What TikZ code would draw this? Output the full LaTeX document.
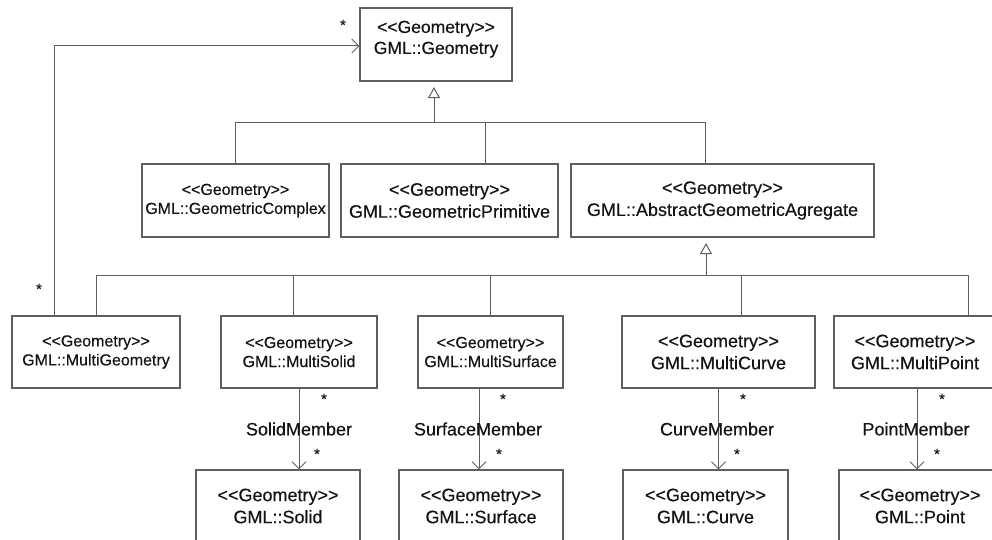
\documentclass[tikz,border=0pt]{standalone}
\usepackage{fontspec}
\setmainfont{Liberation Sans}[FakeBold=0.35]
\usetikzlibrary{arrows.meta}
\definecolor{edge}{RGB}{95,95,95}
\definecolor{ink}{RGB}{20,20,20}
% stereotype guillemets written as two angle brackets
\newcommand\umlst[1]{<\kern0pt<#1>\kern0pt>}
\begin{document}
\begin{tikzpicture}[x=1pt,y=-1pt,
  cls/.style={draw=edge, line width=1.1pt, rectangle, inner sep=0pt,
    align=center, text=ink, minimum height=72pt},
  fsa/.style={font=\fontsize{16}{19}\selectfont},
  fsb/.style={font=\fontsize{17.5}{21}\selectfont},
  fsc/.style={font=\fontsize{18}{22}\selectfont},
  line/.style={draw=edge, line width=1pt},
  gen/.style={line, -{Triangle[open,length=11pt,width=12pt]}, shorten >=5.5pt},
  assoc/.style={line, -{Straight Barb[length=7pt,width=14pt]}},
  mult/.style={font=\fontsize{15}{15}\selectfont, inner sep=0pt, text=ink},
  role/.style={font=\fontsize{18}{18}\selectfont, inner sep=0pt, text=ink}
]
\useasboundingbox (0,0) rectangle (992,540);

% classes
\node[cls, fsb, minimum width=152pt, minimum height=73pt] (G) at (436,44.5)
  {\umlst{Geometry}\\GML::Geometry\\[-13pt]\strut};
\node[cls, fsa, minimum width=187pt, minimum height=73pt] (GC) at (235.5,200.5)
  {\umlst{Geometry}\\GML::GeometricComplex};
\node[cls, fsc, minimum width=217pt, minimum height=73pt] (GP) at (449.5,200.5)
  {\umlst{Geometry}\\GML::GeometricPrimitive};
\node[cls, fsc, minimum width=303pt, minimum height=73pt] (AGA) at (722.5,200.5)
  {\umlst{Geometry}\\GML::AbstractGeometricAgregate};

\node[cls, fsa, minimum width=168pt] (MG) at (96,352)
  {\umlst{Geometry}\\GML::MultiGeometry};
\node[cls, fsa, minimum width=156pt] (MS) at (299,352)
  {\umlst{Geometry}\\GML::MultiSolid};
\node[cls, fsa, minimum width=145pt] (MSu) at (490.5,352)
  {\umlst{Geometry}\\GML::MultiSurface};
\node[cls, fsc, minimum width=193pt] (MC) at (718.5,352)
  {\umlst{Geometry}\\GML::MultiCurve};
\node[cls, fsc, minimum width=162pt] (MP) at (915,352)
  {\umlst{Geometry}\\GML::MultiPoint};

\node[cls, fsc, minimum width=164pt] (S) at (278,506)
  {\umlst{Geometry}\\GML::Solid};
\node[cls, fsc, minimum width=164pt] (Su) at (481,506)
  {\umlst{Geometry}\\GML::Surface};
\node[cls, fsc, minimum width=165pt] (C) at (705.5,506)
  {\umlst{Geometry}\\GML::Curve};
\node[cls, fsc, minimum width=162pt] (P) at (920,506)
  {\umlst{Geometry}\\GML::Point};

% generalisation to GML::Geometry
\coordinate (j1) at (434,123);
\coordinate (b1r) at (705,123);
\coordinate (dGP) at (485,123);
\draw[gen] (j1) -- (j1 |- G.south);
\draw[line] (GC.north) -- (GC.north |- j1) -- (b1r) -- (b1r |- AGA.north);
\draw[line] (dGP) -- (dGP |- GP.north);

% generalisation to GML::AbstractGeometricAgregate
\coordinate (j2) at (706,275);
\coordinate (b2r) at (968,275);
\coordinate (dMS) at (293,275);
\coordinate (dMC) at (741,275);
\draw[gen] (j2) -- (j2 |- AGA.south);
\draw[line] (MG.north) |- (b2r) -- (b2r |- MP.north);
\draw[line] (dMS) -- (dMS |- MS.north);
\draw[line] (MSu.north) -- (MSu.north |- j2);
\draw[line] (dMC) -- (dMC |- MC.north);

% MultiGeometry aggregates geometries
\draw[assoc] ([xshift=-42pt]MG.north) |- ([yshift=-1.5pt]G.west);
\node[mult] (mgA) at (343,25) {*};
\node[mult] (mgB) at (39,289) {*};

% member associations
\draw[assoc] (MS.south) -- (MS.south |- S.north);
\draw[assoc] ([xshift=-11.5pt]MSu.south) -- ([xshift=-11.5pt]MSu.south |- Su.north);
\draw[assoc] (MC.south) -- (MC.south |- C.north);
\draw[assoc] ([xshift=2pt]MP.south) -- ([xshift=2pt]MP.south |- P.north);

\node[role] (rS) at (299,429) {SolidMember};
\node[role] (rSu) at (478,429) {SurfaceMember};
\node[role] (rC) at (717,429) {CurveMember};
\node[role] (rP) at (916,429) {PointMember};

\node[mult] (sA) at (324,399) {*};
\node[mult] (sB) at (317,454) {*};
\node[mult] (suA) at (503,399) {*};
\node[mult] (suB) at (499,454) {*};
\node[mult] (cA) at (743,399) {*};
\node[mult] (cB) at (737,454) {*};
\node[mult] (pA) at (942,399) {*};
\node[mult] (pB) at (937,454) {*};
\end{tikzpicture}
\end{document}
